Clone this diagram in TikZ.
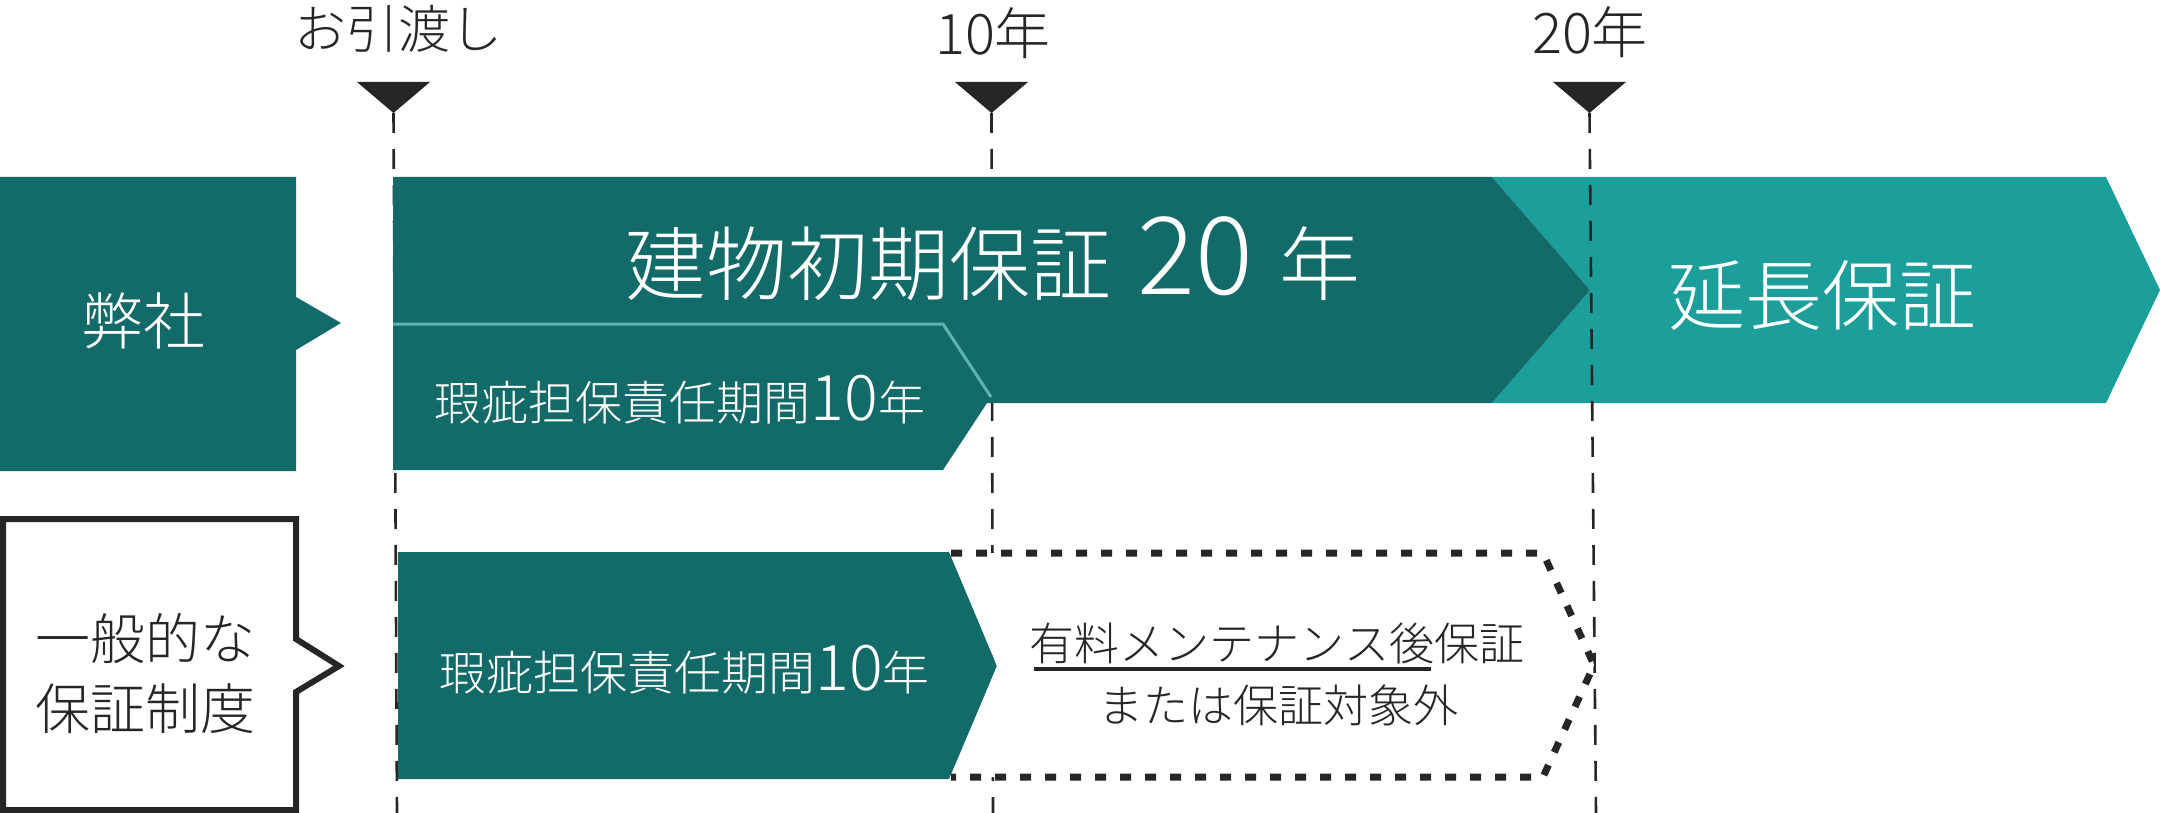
\documentclass[tikz,border=0pt]{standalone}
\usepackage{fontspec}
\IfFontExistsTF{Noto Sans CJK JP Light}{\setmainfont{Noto Sans CJK JP Light}}{\setmainfont{Noto Sans CJK JP}}
\definecolor{dteal}{HTML}{136B69}
\definecolor{lteal}{HTML}{1C9E9A}
\definecolor{ink}{HTML}{262626}
\definecolor{edgeline}{HTML}{5DB3AE}
\tikzset{
  guide/.style={draw=ink, line width=1.3, dash pattern=on 10 off 8},
  marker/.style={fill=ink},
  wtext/.style={text=white, inner sep=0pt, anchor=base},
  ktext/.style={text=ink, inner sep=0pt, anchor=base},
  dotbox/.style={draw=ink, line width=3.5, dash pattern=on 5.5 off 7},
}
\newcommand{\fs}[1]{\fontsize{#1}{#1}\selectfont}
\begin{document}
\begin{tikzpicture}[x=0.5pt,y=-0.5pt]
\useasboundingbox (0,0) rectangle (2160,813);
% top labels and markers
\node[ktext] (handover) at (398,49) {\fs{26}お引渡し};
\node[ktext] (y10) at (993,55) {\fs{28}10年};
\node[ktext] (y20) at (1590,54) {\fs{28}20年};
\fill[marker] (357,82) -- (430,82) -- (393.5,113) -- cycle;
\fill[marker] (955,82) -- (1028,82) -- (991.5,113) -- cycle;
\fill[marker] (1553,82) -- (1626,82) -- (1589.5,113) -- cycle;
% extended band (behind)
\fill[lteal] (1492,177) -- (2106,177) -- (2160,290) -- (2106,403) -- (1492,403) -- (1590,290) -- cycle;
% guide lines
\coordinate (g0t) at (393.5,113); \coordinate (g0b) at (397,813);
\coordinate (g1t) at (991.5,113); \coordinate (g1b) at (993,813);
\coordinate (g2t) at (1589.5,113); \coordinate (g2b) at (1596,813);
\draw[guide] (g0t) -- (g0b);
\draw[guide] (g1t) -- (g1b);
\draw[guide] (g2t) -- (g2b);
% row 1
\fill[dteal] (0,177) -- (296,177) -- (296,297) -- (341,323) -- (296,350) -- (296,471) -- (0,471) -- cycle;
\node[wtext] (company) at (143,344) {\fs{31}弊社};
\fill[dteal] (393,177) -- (1492,177) -- (1590,290) -- (1492,403) -- (393,403) -- cycle;
\fill[dteal] (393,324) -- (943,324) -- (991,397) -- (943,470) -- (393,470) -- cycle;
\draw[edgeline, line width=1.5] (393,324) -- (943,324) -- (991,397);
\node[wtext] (main) at (993,294) {\fs{40.5}建物初期保証\hspace{13pt}{\fs{54}20}\hspace{13pt}年};
\node[wtext] (ext) at (1822,324) {\fs{38.5}延長保証};
\node[wtext] (defect1) at (680,420) {\fs{23.5}瑕疵担保責任期間{\fs{31.5}10}年};
% row 2
\draw[ink, line width=3] (3,519) -- (296,519) -- (296,639) -- (339,666) -- (296,692) -- (296,810) -- (3,810) -- cycle;
\node[ktext] (gen1) at (145,659) {\fs{27.5}一般的な};
\node[ktext] (gen2) at (145,729) {\fs{27.5}保証制度};
\fill[dteal] (398,552) -- (949,552) -- (997,666) -- (949,779) -- (398,779) -- cycle;
\node[wtext] (defect2) at (684.5,690) {\fs{23.5}瑕疵担保責任期間{\fs{31.5}10}年};
\fill[white] (951,553) -- (1543,553) -- (1594,665) -- (1543,777) -- (951,777) -- (997,666) -- cycle;
\draw[dotbox] (951,553) -- (1543,553) -- (1594,665) -- (1543,777) -- (951,777);
\node[ktext] (paid) at (1277,660) {\fs{22.5}有料メンテナンス後保証};
\node[ktext] (orout) at (1278,722) {\fs{22.5}または保証対象外};
\coordinate (ul1) at (1034,669); \coordinate (ul2) at (1431,669);
\draw[ink, line width=2] (ul1) -- (ul2);
\end{tikzpicture}
\end{document}
